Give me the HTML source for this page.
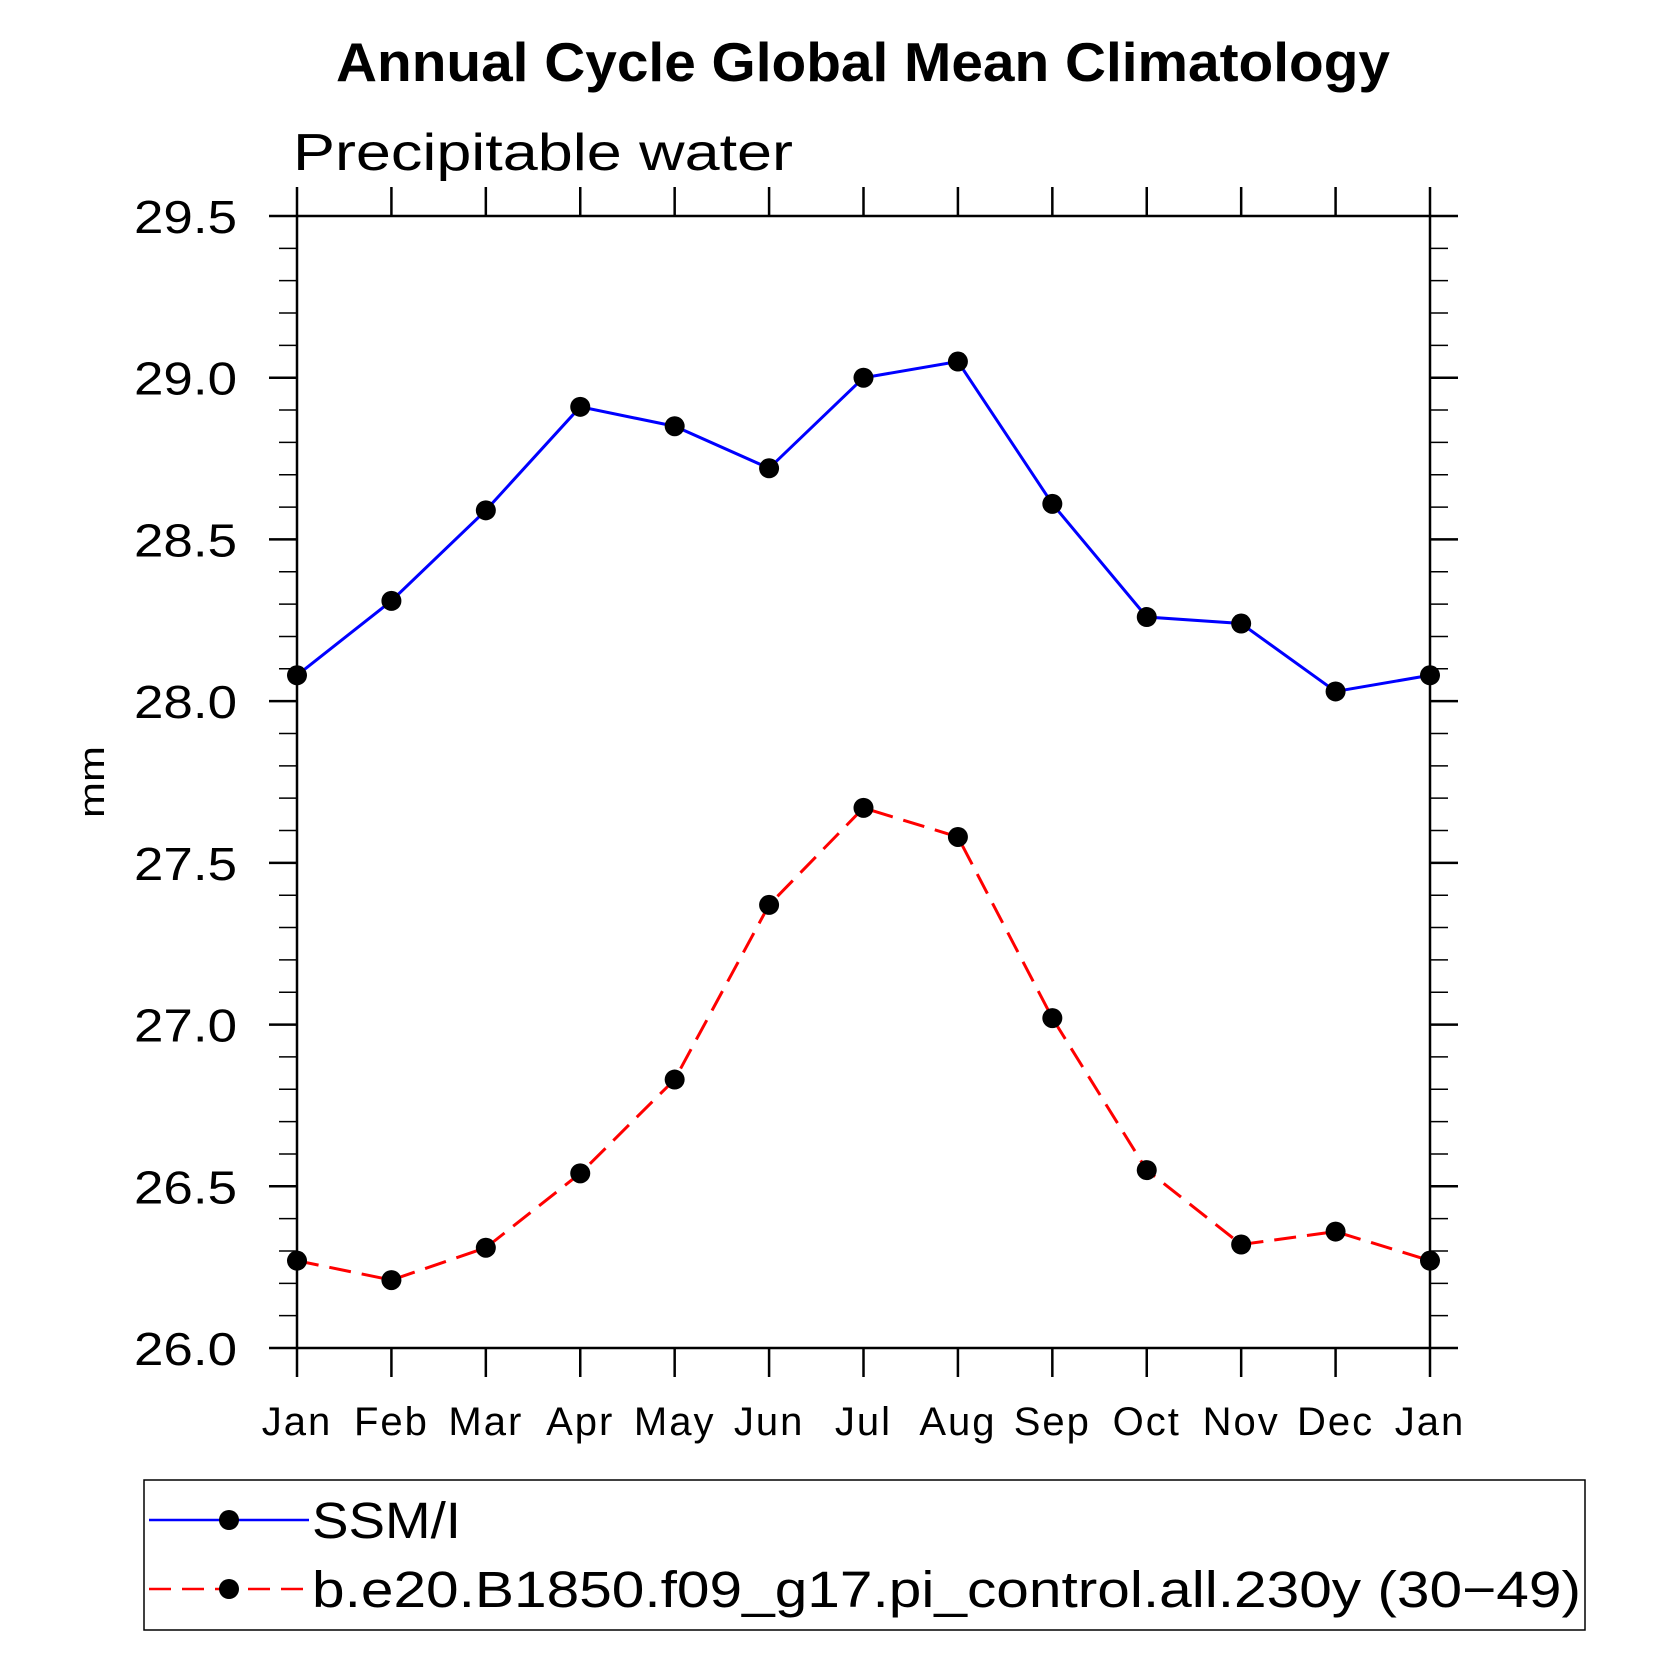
<!DOCTYPE html>
<html><head><meta charset="utf-8"><style>
html,body{margin:0;padding:0;background:#fff}
svg{display:block}
text{font-family:"Liberation Sans","DejaVu Sans",sans-serif}
</style></head><body>
<svg id="chart" width="1669" height="1669" viewBox="0 0 1669 1669">
<text x="336" y="81" textLength="1054" lengthAdjust="spacingAndGlyphs" font-size="55" font-weight="bold">Annual Cycle Global Mean Climatology</text>
<text x="293" y="170" textLength="500" lengthAdjust="spacingAndGlyphs" font-size="52">Precipitable water</text>
<text transform="translate(104,782) rotate(-90)" text-anchor="middle" font-size="36" textLength="72" lengthAdjust="spacingAndGlyphs">mm</text>
<g id="axes"></g>
<g id="series"></g>
<g>
<rect x="144" y="1480" width="1441" height="150" fill="none" stroke="#000" stroke-width="1.5"/>
<g>
<line x1="149" y1="1520" x2="309" y2="1520" stroke="#0000ff" stroke-width="2.5"/>
<circle cx="229" cy="1520" r="10" fill="#000"/>
<text x="312" y="1538" font-size="51" textLength="149" lengthAdjust="spacingAndGlyphs">SSM/I</text>
</g>
<g>
<line x1="149" y1="1589" x2="309" y2="1589" stroke="#ff0000" stroke-width="2.5" stroke-dasharray="22,11"/>
<circle cx="229" cy="1589" r="10" fill="#000"/>
<text x="312" y="1607" font-size="51" textLength="1269" lengthAdjust="spacingAndGlyphs">b.e20.B1850.f09_g17.pi_control.all.230y (30−49)</text>
</g>
</g>
</svg>
<script>
const months = ["Jan","Feb","Mar","Apr","May","Jun","Jul","Aug","Sep","Oct","Nov","Dec","Jan"];
const ssmiValues = [28.08,28.31,28.59,28.91,28.85,28.72,29.00,29.05,28.61,28.26,28.24,28.03,28.08];
const modelValues = [26.27,26.21,26.31,26.54,26.83,27.37,27.67,27.58,27.02,26.55,26.32,26.36,26.27];
const yTickLabels = ["26.0","26.5","27.0","27.5","28.0","28.5","29.0","29.5"];

const NS="http://www.w3.org/2000/svg";
const X0=297,X1=1430,Y0=216,Y1=1348,YMIN=26.0,YMAX=29.5;
const xs=i=>X0+(X1-X0)*i/(months.length-1);
const ys=v=>Y1-(v-YMIN)/(YMAX-YMIN)*(Y1-Y0);
function mk(tag,attrs,parent){const e=document.createElementNS(NS,tag);for(const k in attrs)e.setAttribute(k,attrs[k]);parent.appendChild(e);return e;}
const axes=document.getElementById('axes');
const fr=mk('rect',{x:X0,y:Y0,width:X1-X0,height:Y1-Y0,fill:'none',stroke:'#000','stroke-width':2.5},axes);


for(let k=0;k<=35;k++){
  const v=YMIN+k*0.1,y=ys(v),major=k%5===0;
  const L=major?28:18;
  mk('line',{x1:X0-L,y1:y,x2:X0,y2:y,stroke:'#000','stroke-width':major?2.5:1.5},axes);
  mk('line',{x1:X1,y1:y,x2:X1+L,y2:y,stroke:'#000','stroke-width':major?2.5:1.5},axes);
}
yTickLabels.forEach(s=>{
  const t=mk('text',{x:134,y:ys(parseFloat(s))+17,'font-size':46,textLength:103,lengthAdjust:'spacingAndGlyphs'},axes);
  t.textContent=s;
  
  
});
months.forEach((m,i)=>{
  const x=xs(i);
  mk('line',{x1:x,y1:Y1,x2:x,y2:Y1+29,stroke:'#000','stroke-width':2.5},axes);
  mk('line',{x1:x,y1:Y0,x2:x,y2:Y0-29,stroke:'#000','stroke-width':2.5},axes);
  const t=mk('text',{x:x,y:1435,'text-anchor':'middle','font-size':40,'letter-spacing':2},axes);
  t.textContent=m;
  
  
});
const ser=document.getElementById('series');
function draw(vals,color,dash,name){
  const g=mk('g',{},ser);
  
  
  const pts=vals.map((v,i)=>xs(i)+','+ys(v)).join(' ');
  const pl=mk('polyline',{points:pts,fill:'none',stroke:color,'stroke-width':3},g);
  if(dash)pl.setAttribute('stroke-dasharray',dash);
  
  
  vals.forEach((v,i)=>{
    const c=mk('circle',{cx:xs(i),cy:ys(v),r:10,fill:'#000'},g);
    
    
  });
}
draw(ssmiValues,'#0000ff',null,'ssmi-series');
draw(modelValues,'#ff0000','22,11','model-series');
</script>
</body></html>
